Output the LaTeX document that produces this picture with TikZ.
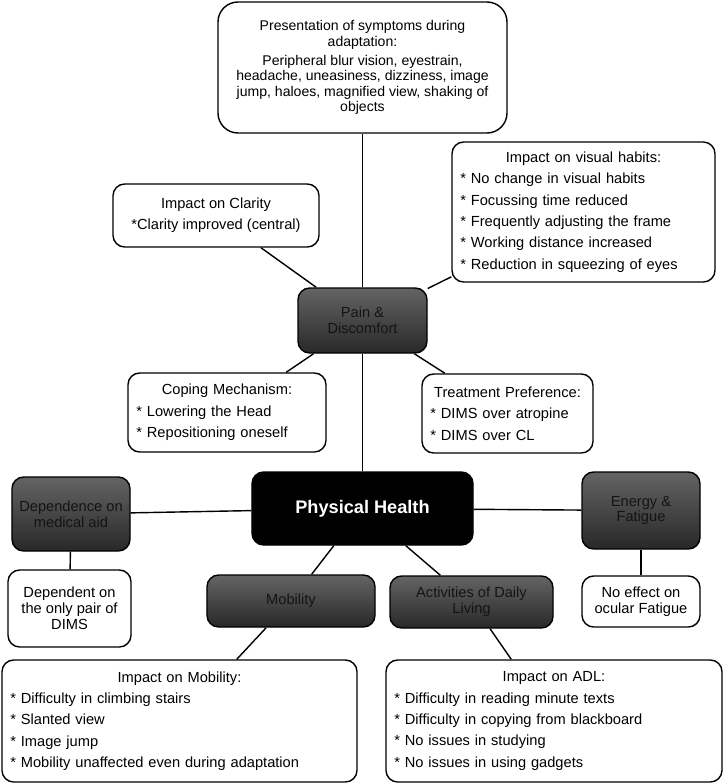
\documentclass[tikz,border=0pt]{standalone}
\usepackage{fontspec}
\setmainfont{Liberation Sans}
\usepackage{tikz}
\usetikzlibrary{positioning}
\definecolor{pd-light}{RGB}{100,100,100}
\definecolor{pd-dark}{RGB}{40,40,40}
\definecolor{pd-text}{RGB}{20,20,20}
\newcommand{\headline}[1]{\makebox[\linewidth]{#1}}

\begin{document}
\begin{tikzpicture}[
  x=0.03cm, y=-0.03cm,
  box/.style={rectangle, draw, line width=1.2pt, rounded corners=0.35cm, fill=white, align=center, inner sep=0.2cm, font=\fontsize{12.5}{13.5}\selectfont},
  list/.style={box, align=left, inner xsep=0.25cm, font=\fontsize{12.5}{18.2}\selectfont},
  theme/.style={box, top color=pd-light, bottom color=pd-dark, text=pd-text},
  core/.style={box, fill=black, text=white, font=\bfseries\fontsize{15.5}{17}\selectfont},
  link/.style={line width=1.2pt}
]
  \useasboundingbox (0,0) rectangle (723,784);

  \node[box, rounded corners=0.6cm, font=\fontsize{12}{13.2}\selectfont, minimum width=8.67cm, minimum height=3.93cm] (symp) at (362.5,67.5) {Presentation of symptoms during\\adaptation:\\[3pt]Peripheral blur vision, eyestrain,\\headache, uneasiness, dizziness, image\\jump, haloes, magnified view, shaking of\\objects};
  \node[box, font=\fontsize{12.5}{18.2}\selectfont, minimum width=6.18cm, minimum height=1.89cm] (clar) at (216,215.5) {Impact on Clarity\\{*}Clarity improved (central)};
  \node[list, text width=7.39cm, minimum height=4.2cm] (habit) at (583.5,212) {\headline{Impact on visual habits:}\\{*} No change in visual habits\\{*} Focussing time reduced\\{*} Frequently adjusting the frame\\{*} Working distance increased\\{*} Reduction in squeezing of eyes};
  \node[theme, minimum width=3.87cm, minimum height=1.95cm] (pain) at (362.5,320.5) {Pain \&\\Discomfort};
  \node[list, text width=5.44cm, minimum height=2.37cm] (cope) at (227,412.5) {\headline{Coping Mechanism:}\\{*} Lowering the Head\\{*} Repositioning oneself};
  \node[list, text width=4.63cm, minimum height=2.37cm] (treat) at (507.5,413.5) {\headline{Treatment Preference:}\\{*} DIMS over atropine\\{*} DIMS over CL};

  \node[core, minimum width=6.63cm, minimum height=2.19cm] (phys) at (362.5,508.5) {Physical Health};
  \node[theme, minimum width=3.54cm, minimum height=2.22cm] (depend) at (71,514) {Dependence on\\medical aid};
  \node[theme, minimum width=3.54cm, minimum height=2.31cm] (energy) at (641,510.5) {Energy \&\\Fatigue};
  \node[box, minimum width=3.69cm, minimum height=2.31cm] (dims) at (69.5,608.5) {Dependent on\\the only pair of\\DIMS};
  \node[theme, minimum width=5.04cm, minimum height=1.56cm] (mob) at (291,601) {Mobility};
  \node[theme, minimum width=4.89cm, minimum height=1.56cm] (adl) at (471.5,602) {Activities of Daily\\Living};
  \node[box, minimum width=3.54cm, minimum height=1.53cm] (fatig) at (641,601.5) {No effect on\\ocular Fatigue};
  \node[list, text width=10.15cm, minimum height=3.66cm] (impmob) at (179.5,721) {\headline{Impact on Mobility:}\\{*} Difficulty in climbing stairs\\{*} Slanted view\\{*} Image jump\\{*} Mobility unaffected even during adaptation};
  \node[list, text width=9.58cm, minimum height=3.66cm] (impadl) at (554,721) {\headline{Impact on ADL:}\\{*} Difficulty in reading minute texts\\{*} Difficulty in copying from blackboard\\{*} No issues in studying\\{*} No issues in using gadgets};

  \draw[link] (symp) -- (pain);
  \draw[link] (pain) -- (phys);
  \draw[link] (clar) -- (pain);
  \draw[link] (habit) -- (pain);
  \draw[link] (pain) -- (cope);
  \draw[link] (pain) -- (treat);
  \draw[link] (phys) -- (depend);
  \draw[link] (phys) -- (energy);
  \draw[link] (depend) -- (dims);
  \draw[link] (energy) -- (fatig);
  \draw[link] (phys) -- (mob);
  \draw[link] (phys) -- (adl);
  \draw[link] (mob) -- (impmob);
  \draw[link] (adl) -- (impadl);
\end{tikzpicture}
\end{document}
